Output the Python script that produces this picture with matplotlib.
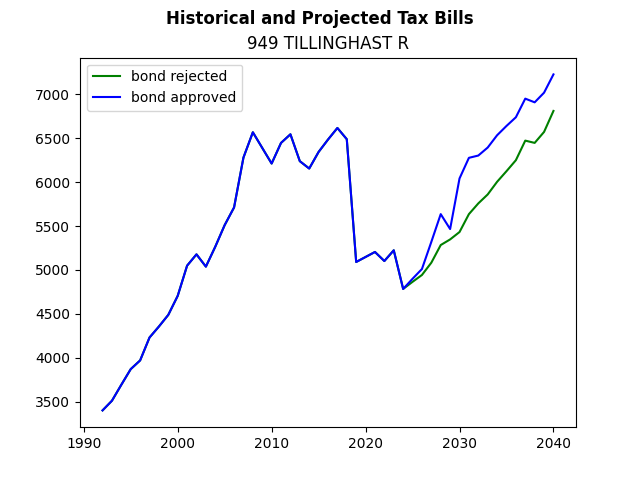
import matplotlib
matplotlib.use("Agg")
import matplotlib.pyplot as plt

years = list(range(1992, 2041))

history = [3401, 3511, 3693, 3871, 3970, 4231, 4356, 4489, 4705, 5049,
           5178, 5038, 5265, 5511, 5712, 6280, 6568, 6390, 6212, 6447,
           6545, 6239, 6155, 6344, 6485, 6617, 6489, 5091, 5148, 5205,
           5102, 5224, 4784]

rejected_proj = [4865, 4943, 5083, 5284, 5348, 5432, 5636, 5758, 5860,
                 6004, 6125, 6250, 6473, 6447, 6572, 6811]
approved_proj = [4900, 5011, 5320, 5636, 5466, 6042, 6277, 6303, 6394,
                 6534, 6640, 6739, 6951, 6909, 7019, 7227]

rejected = history + rejected_proj
approved = history + approved_proj

fig, ax = plt.subplots(figsize=(6.4, 4.8), dpi=100)
ax.plot(years, rejected, color='green', label='bond rejected')
ax.plot(years, approved, color='blue', label='bond approved')
ax.set_title('949 TILLINGHAST R')
fig.suptitle('Historical and Projected Tax Bills', fontweight='bold')
ax.legend(loc='upper left')
fig.savefig('out.png')
